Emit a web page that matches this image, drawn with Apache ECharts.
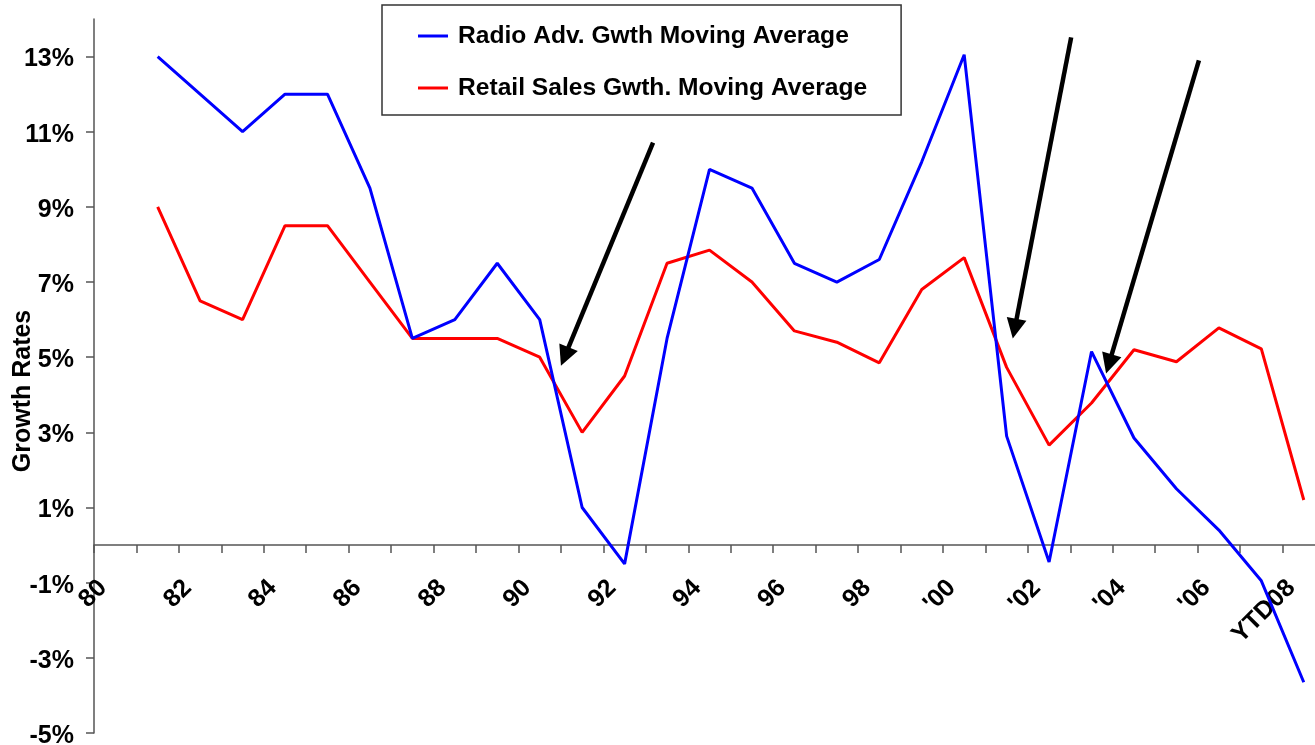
<!DOCTYPE html>
<html>
<head>
<meta charset="utf-8">
<script src="https://cdn.jsdelivr.net/npm/echarts@6/dist/echarts.min.js"></script>
<style>
  html, body { margin: 0; padding: 0; background: #ffffff; }
  #chart { width: 1315px; height: 745px; }
</style>
</head>
<body>
<div id="chart"></div>
<script>
// Years on the category axis (1980 has no moving-average value yet)
const categories = ['80','81','82','83','84','85','86','87','88','89',
  '90','91','92','93','94','95','96','97','98','99',
  "'00","'01","'02","'03","'04","'05","'06","'07",'YTD08'];

// Radio advertising growth, moving average (%)
const radioGrowth = [null, 13.0, 12.0, 11.0, 12.0, 12.0, 9.5, 5.5, 6.0, 7.5,
  6.0, 1.0, -0.5, 5.5, 10.0, 9.5, 7.5, 7.0, 7.6, 10.2,
  13.05, 2.9, -0.45, 5.15, 2.85, 1.5, 0.4, -0.95, -3.65];

// Retail sales growth, moving average (%)
const retailGrowth = [null, 9.0, 6.5, 6.0, 8.5, 8.5, 7.0, 5.5, 5.5, 5.5,
  5.0, 3.0, 4.5, 7.5, 7.85, 7.0, 5.7, 5.4, 4.85, 6.8,
  7.65, 4.73, 2.66, 3.78, 5.2, 4.88, 5.78, 5.22, 1.2];

// Value-axis range and ticks (%)
const yMin = -5, yMax = 14;
const yTicks = [-5, -3, -1, 1, 3, 5, 7, 9, 11, 13];

// Callout arrows: [category position, growth %] for tail and head
const arrows = [
  { from: [12.67, 10.71], to: [10.59, 5.02] },
  { from: [22.52, 13.51], to: [21.19, 5.76] },
  { from: [25.53, 12.90], to: [23.41, 4.82] }
];

const FONT = 'Liberation Sans, Arial, Helvetica, sans-serif';
const AXIS_GRAY = '#555555';
const GRID = { left: 94, top: 19, width: 1231, height: 714 };
// distance from the plot bottom up to the zero line, used to lift the year labels
const zeroLift = GRID.height * (0 - yMin) / (yMax - yMin);

const chart = echarts.init(document.getElementById('chart'), null, { renderer: 'canvas' });

const option = {
  animation: false,
  backgroundColor: '#ffffff',
  textStyle: { fontFamily: FONT },
  grid: Object.assign({ containLabel: false, outerBoundsMode: 'none' }, GRID),
  legend: {
    left: 382, top: 5,
    orient: 'vertical',
    data: ['Radio Adv. Gwth Moving Average', 'Retail Sales Gwth. Moving Average'],
    backgroundColor: '#ffffff',
    borderColor: '#333333',
    borderWidth: 1.5,
    borderRadius: 0,
    padding: [18, 34, 14, 36],
    itemGap: 26,
    icon: 'rect',
    itemWidth: 30,
    itemHeight: 3,
    selectedMode: false,
    textStyle: {
      fontFamily: FONT, fontSize: 24.6, fontWeight: 'bold', color: '#000000',
      lineHeight: 26, padding: [0, 0, 0, 5]
    }
  },
  xAxis: [
    {
      // data axis: line on zero, ticks at category boundaries
      type: 'category',
      data: categories,
      boundaryGap: true,
      axisLine: { onZero: true, lineStyle: { color: AXIS_GRAY, width: 1.5 } },
      axisTick: { show: true, interval: 0, inside: false, length: 8,
                  lineStyle: { color: AXIS_GRAY, width: 1.5 } },
      axisLabel: { show: false },
      splitLine: { show: false }
    },
    {
      // label axis: year labels sit on the category boundaries, at the zero line
      type: 'category',
      data: categories.concat(['']),
      boundaryGap: false,
      position: 'bottom',
      offset: -zeroLift,
      axisLine: { show: false, onZero: false },
      axisTick: { show: false },
      axisLabel: {
        show: true, interval: 1, rotate: 45, margin: 30,
        align: 'right', verticalAlign: 'top',
        fontFamily: FONT, fontSize: 25, fontWeight: 'bold', color: '#000000'
      },
      splitLine: { show: false }
    },
    {
      // continuous helper axis for the callout arrows
      type: 'value',
      show: false,
      min: -0.5, max: 28.5
    }
  ],
  yAxis: {
    type: 'value',
    min: yMin, max: yMax,
    name: 'Growth Rates',
    nameLocation: 'middle',
    nameRotate: 90,
    nameGap: 58,
    nameMoveOverlap: false,
    nameTextStyle: {
      fontFamily: FONT, fontSize: 25, fontWeight: 'bold', color: '#000000',
      padding: [0, 30, 0, 0]
    },
    axisLine: { show: true, onZero: false, lineStyle: { color: AXIS_GRAY, width: 1.5 } },
    axisTick: { show: true, inside: false, length: 8, customValues: yTicks,
                lineStyle: { color: AXIS_GRAY, width: 1.5 } },
    axisLabel: {
      customValues: yTicks, margin: 20,
      formatter: '{value}%',
      verticalAlign: 'top',
      lineHeight: 6,
      fontFamily: FONT, fontSize: 25, fontWeight: 'bold', color: '#000000'
    },
    splitLine: { show: false }
  },
  series: [
    {
      name: 'Retail Sales Gwth. Moving Average',
      type: 'line',
      xAxisIndex: 0, yAxisIndex: 0,
      data: retailGrowth,
      symbol: 'none',
      connectNulls: false,
      lineStyle: { color: '#ff0000', width: 3 },
      itemStyle: { color: '#ff0000' },
      z: 3
    },
    {
      name: 'Radio Adv. Gwth Moving Average',
      type: 'line',
      xAxisIndex: 0, yAxisIndex: 0,
      data: radioGrowth,
      symbol: 'none',
      connectNulls: false,
      lineStyle: { color: '#0000ff', width: 3 },
      itemStyle: { color: '#0000ff' },
      z: 4
    },
    {
      name: 'arrows',
      type: 'lines',
      coordinateSystem: 'cartesian2d',
      xAxisIndex: 2, yAxisIndex: 0,
      symbol: ['none', 'triangle'],
      symbolSize: 20,
      lineStyle: { color: '#000000', width: 4.5, opacity: 1, curveness: 0 },
      data: arrows.map(a => ({ coords: [a.from, a.to] })),
      silent: true,
      z: 6
    }
  ]
};

chart.setOption(option);
</script>
</body>
</html>
